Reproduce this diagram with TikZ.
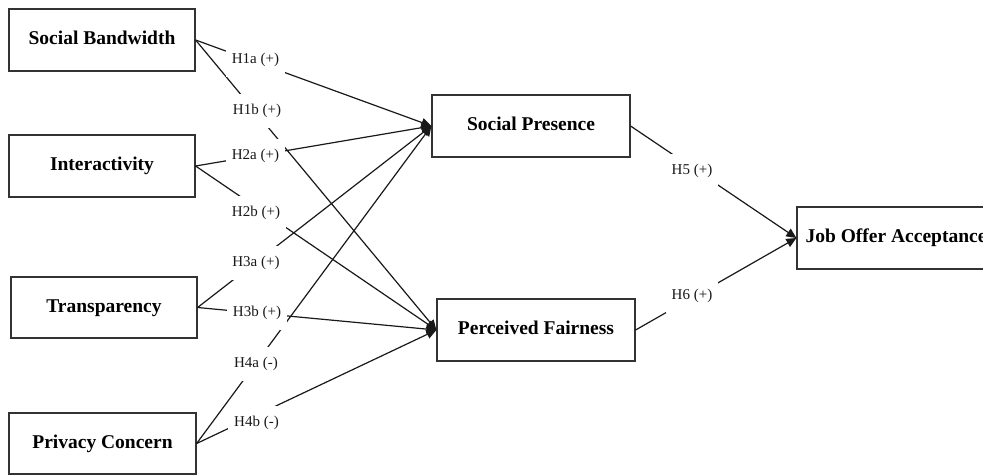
\documentclass[tikz,border=0pt]{standalone}
\usepackage{fontspec}
\setmainfont{Liberation Serif}
\usetikzlibrary{arrows.meta}
\begin{document}
\begin{tikzpicture}[x=1pt,y=-1pt,
 box/.style={draw=black!80, line width=1.2pt, minimum width=186pt, minimum height=62pt, inner sep=0pt,
   font=\fontsize{19.5}{20}\selectfont\bfseries, text height=13.5pt, text depth=4pt},
 conn/.style={draw=black!90, line width=1.2pt, -{Triangle[length=10pt,width=9pt]}},
 lab/.style={fill=white, inner xsep=6pt, inner ysep=10pt, font=\fontsize{15}{15}\selectfont, text=black!90}]
\fill[white] (0,0) rectangle (983,475);
\clip (0,0) rectangle (983,475);
% boxes
\node[box] (sb) at (102,40) {Social Bandwidth};
\node[box] (int) at (102,166) {Interactivity};
\node[box, minimum height=61pt] (tr) at (104,307.5) {Transparency};
\node[box, minimum width=187pt, minimum height=61pt] (pc) at (102.5,443.5) {Privacy Concern};
\node[box, minimum width=198pt] (sp) at (531,126) {Social Presence};
\node[box, minimum width=198pt] (pf) at (536,330) {Perceived Fairness};
\node[box, minimum width=198pt] (joa) at (896,238) {Job Offer Acceptance};
% connectors
\draw[conn] (sb.east) -- (sp.west);
\draw[conn] (sb.east) -- (pf.west);
\draw[conn] (int.east) -- (sp.west);
\draw[conn] (int.east) -- (pf.west);
\draw[conn] (tr.east) -- (sp.west);
\draw[conn] (tr.east) -- (pf.west);
\draw[conn] (pc.east) -- (sp.west);
\draw[conn] (pc.east) -- (pf.west);
\draw[conn] (sp.east) -- (joa.west);
\draw[conn] (pf.east) -- (joa.west);
% labels
\node[lab] (l1a) at (255.5,60) {H1a (+)};
\node[lab] (l1b) at (257,111) {H1b (+)};
\node[lab] (l2a) at (255.5,156) {H2a (+)};
\node[lab] (l2b) at (256,213) {H2b (+)};
\node[lab] (l3a) at (256,263) {H3a (+)};
\node[lab] (l3b) at (257,313) {H3b (+)};
\node[lab] (l4a) at (256,364) {H4a (-)};
\node[lab] (l4b) at (256.5,423) {H4b (-)};
\node[lab] (l5) at (692,171) {H5 (+)};
\node[lab] (l6) at (692,296) {H6 (+)};
\end{tikzpicture}
\end{document}
